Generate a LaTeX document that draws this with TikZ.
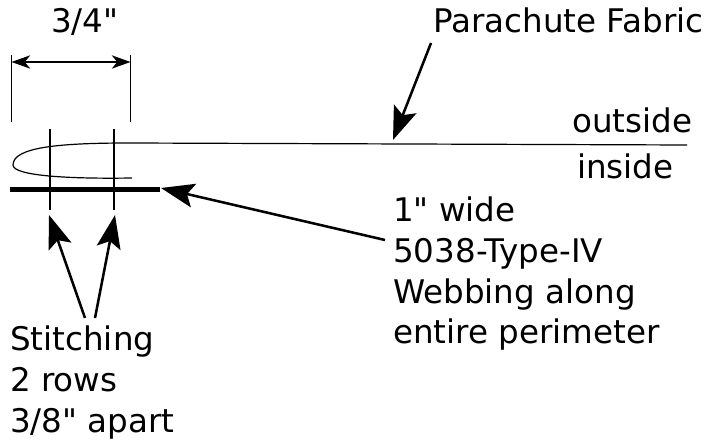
\documentclass[tikz,border=0pt]{standalone}
\usepackage{fontspec}
\setmainfont{DejaVu Sans}[Ligatures=TeXOff]
\usetikzlibrary{arrows.meta}
\tikzset{
  label/.style={inner sep=0pt, align=left, font=\fontsize{24.4}{30.5}\selectfont},
  leader/.style={line width=1.9pt, -{Stealth[length=25pt,width=18pt,inset=5pt]}},
  thin line/.style={line width=1.1pt}
}

\begin{document}
\begin{tikzpicture}[x=0.75pt,y=-0.75pt]
\useasboundingbox (0,0) rectangle (706,441);

\node[label, anchor=base west] at (51,33) (width) {3/4"};
\node[label, anchor=base west] at (433,33) (fabric) {Parachute Fabric};
\node[label, anchor=base west] at (572,133) (outside) {outside};
\node[label, anchor=base west] at (577,179) (inside) {inside};
\node[label, anchor=base west] at (393,344) (webbing) {1" wide\\5038-Type-IV\\Webbing along\\entire perimeter};
\node[label, anchor=base west] at (10,432) (stitching) {Stitching\\2 rows\\3/8" apart};

\coordinate (dimA) at (11.5,55);
\coordinate (dimAend) at (11.5,122);
\coordinate (dimB) at (130.5,55);
\coordinate (dimBend) at (130.5,122);
\coordinate (rowA) at (50,129);
\coordinate (rowAend) at (50,210);
\coordinate (rowB) at (114,129);
\coordinate (rowBend) at (114,210);

% dimension
\draw[thin line] (dimA) -- (dimAend);
\draw[thin line] (dimB) -- (dimBend);
\draw[line width=1pt, {Stealth[length=14pt,width=10pt,inset=4pt]}-{Stealth[length=14pt,width=10pt,inset=4pt]}]
  (11.5,62) -- (130.5,62);

% fabric and webbing
\draw[line width=0.9pt] (687,145) -- (130,143) .. controls (60,143) and (13,147) .. (13,165)
  .. controls (13,176) and (70,179) .. (132,178);
\draw[line width=4pt] (10,189.3) -- (160,189.3);

% stitching
\draw[line width=1.5pt] (rowA) -- (rowAend);
\draw[line width=1.5pt] (rowB) -- (rowBend);

% leaders
\draw[leader] (431,43) -- (393,140);
\draw[leader] (385,240) -- (161,188);
\draw[leader] (85,318) -- (49,215);
\draw[leader] (95,318) -- (115,215);
\end{tikzpicture}
\end{document}
